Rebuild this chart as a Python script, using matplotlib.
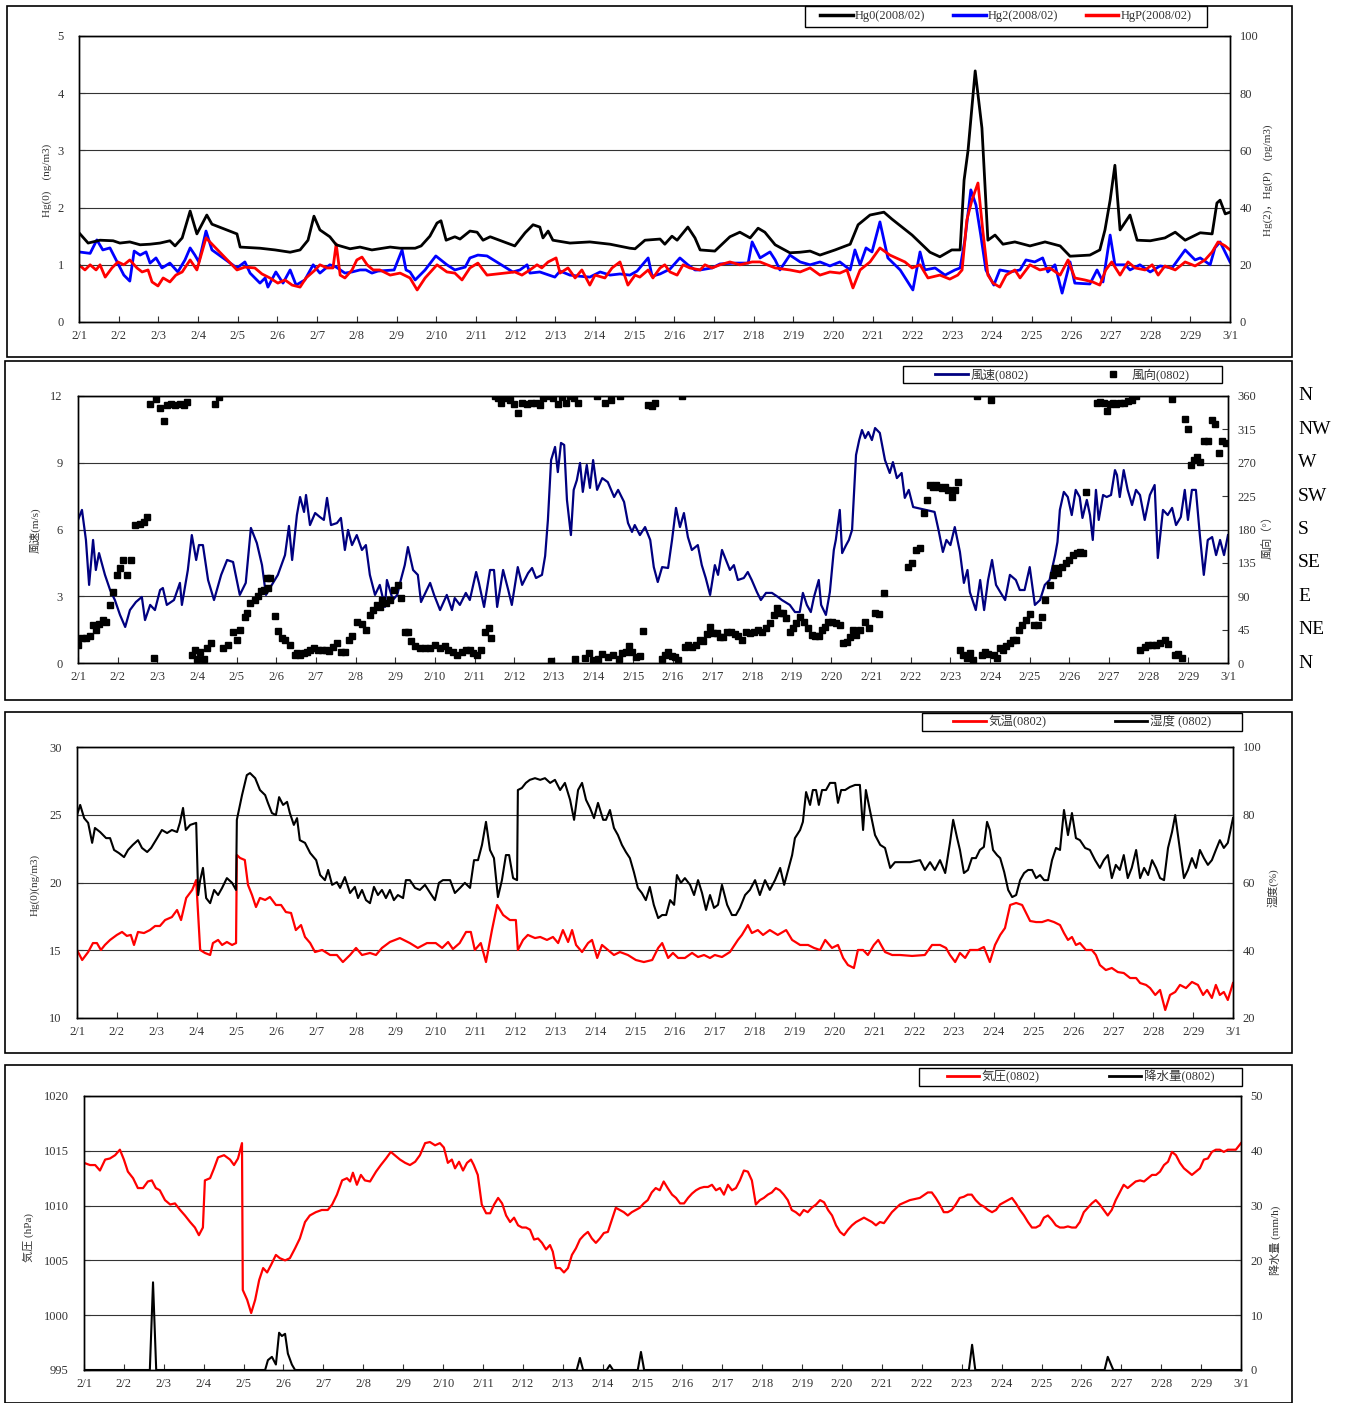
import matplotlib
matplotlib.use('Agg')
import matplotlib.pyplot as plt
from matplotlib.patches import Rectangle
from matplotlib.lines import Line2D
import matplotlib.transforms as mtrans

plt.rcParams['font.family'] = ['Liberation Serif', 'Noto Sans CJK JP']
plt.rcParams['font.size'] = 8
plt.rcParams['axes.unicode_minus'] = False

day_labels = ['2/1', '2/2', '2/3', '2/4', '2/5', '2/6', '2/7', '2/8', '2/9', '2/10',
              '2/11', '2/12', '2/13', '2/14', '2/15', '2/16', '2/17', '2/18', '2/19', '2/20',
              '2/21', '2/22', '2/23', '2/24', '2/25', '2/26', '2/27', '2/28', '2/29', '3/1']

# ---- panel 1 : mercury ----
hg0_day = [0, 0.23, 0.53, 0.86, 1.03, 1.28, 1.54, 1.79, 2.04, 2.29,
           2.42, 2.6, 2.8, 2.97, 3.22, 3.35, 3.98, 4.06, 4.56, 4.94,
           5.32, 5.57, 5.77, 5.92, 6.07, 6.32, 6.48, 6.83, 7.08, 7.38,
           7.84, 8.09, 8.47, 8.62, 8.84, 9.02, 9.12, 9.25, 9.47, 9.6,
           9.85, 10.03, 10.18, 10.36, 10.98, 11.24, 11.44, 11.61, 11.69, 11.82,
           11.94, 12.37, 12.87, 13.38, 13.88, 14.01, 14.26, 14.64, 14.76, 14.94,
           15.07, 15.34, 15.52, 15.65, 16.02, 16.4, 16.65, 16.91, 17.11, 17.28,
           17.54, 17.91, 18.17, 18.42, 18.67, 19.05, 19.43, 19.63, 19.93, 20.28,
           20.48, 20.99, 21.44, 21.69, 21.99, 22.2, 22.3, 22.4, 22.58, 22.75,
           22.9, 23.08, 23.28, 23.58, 23.96, 24.34, 24.72, 24.97, 25.47, 25.72,
           25.85, 25.98, 26.1, 26.23, 26.48, 26.66, 26.99, 27.36, 27.62, 27.87,
           28.25, 28.55, 28.67, 28.75, 28.88, 29.0]
hg0 = [1.56, 1.38, 1.43, 1.42, 1.38, 1.40, 1.35, 1.36, 1.38, 1.42,
       1.33, 1.47, 1.94, 1.54, 1.87, 1.71, 1.54, 1.31, 1.29, 1.26,
       1.22, 1.26, 1.43, 1.85, 1.61, 1.49, 1.35, 1.28, 1.31, 1.26,
       1.31, 1.29, 1.29, 1.33, 1.50, 1.73, 1.77, 1.43, 1.49, 1.45,
       1.59, 1.57, 1.43, 1.49, 1.33, 1.56, 1.70, 1.66, 1.47, 1.59,
       1.43, 1.38, 1.40, 1.36, 1.29, 1.28, 1.43, 1.45, 1.36, 1.50,
       1.43, 1.66, 1.47, 1.26, 1.24, 1.49, 1.57, 1.47, 1.64, 1.57,
       1.35, 1.21, 1.22, 1.24, 1.17, 1.26, 1.36, 1.70, 1.87, 1.92,
       1.80, 1.52, 1.22, 1.14, 1.26, 1.26, 2.48, 3.00, 4.39, 3.39,
       1.43, 1.52, 1.36, 1.40, 1.33, 1.40, 1.33, 1.15, 1.17, 1.26,
       1.61, 2.13, 2.74, 1.61, 1.87, 1.43, 1.42, 1.47, 1.57, 1.43,
       1.56, 1.54, 2.08, 2.13, 1.89, 1.92]

hg2_day = [0, 0.28, 0.45, 0.6, 0.78, 0.96, 1.13, 1.28, 1.39, 1.54,
           1.69, 1.79, 1.94, 2.09, 2.29, 2.49, 2.67, 2.8, 2.92, 3.02,
           3.2, 3.35, 3.98, 4.18, 4.31, 4.56, 4.69, 4.76, 4.96, 5.14,
           5.32, 5.47, 5.69, 5.9, 6.07, 6.32, 6.48, 6.7, 6.88, 7.08,
           7.23, 7.38, 7.53, 7.94, 8.14, 8.24, 8.34, 8.47, 8.72, 8.99,
           9.27, 9.47, 9.73, 9.85, 10.05, 10.28, 10.93, 11.11, 11.29, 11.36,
           11.61, 11.99, 12.12, 12.37, 12.62, 12.87, 13.13, 13.38, 13.63, 13.88,
           14.06, 14.34, 14.44, 14.64, 14.89, 15.14, 15.34, 15.52, 15.65, 15.95,
           16.15, 16.53, 16.86, 16.96, 17.16, 17.41, 17.54, 17.66, 17.91, 18.17,
           18.42, 18.67, 18.92, 19.17, 19.43, 19.55, 19.68, 19.83, 19.98, 20.18,
           20.38, 20.69, 21.01, 21.19, 21.31, 21.57, 21.82, 22.07, 22.2, 22.32,
           22.47, 22.6, 22.72, 22.85, 23.05, 23.2, 23.46, 23.71, 23.86, 24.08,
           24.28, 24.41, 24.59, 24.77, 24.97, 25.09, 25.47, 25.65, 25.8, 25.98,
           26.1, 26.36, 26.48, 26.73, 26.99, 27.24, 27.54, 27.87, 28.12, 28.25,
           28.5, 28.62, 28.75, 29.0]
hg2 = [24.5, 24, 28.7, 25.2, 25.9, 21, 16.4, 14.3, 24.8, 23.4,
       24.5, 20.6, 22.4, 18.9, 20.6, 17.5, 21.7, 25.9, 23.4, 21,
       31.8, 25.2, 18.9, 21, 17.1, 13.6, 15.4, 12.2, 17.5, 13.6,
       18.2, 12.9, 14.7, 20, 17.1, 20, 19.2, 17.1, 17.5, 18.2,
       18.2, 17.1, 17.8, 18.2, 25.2, 18.2, 17.5, 14.7, 18.2, 23.1,
       20, 18.2, 19.2, 22.4, 23.4, 23.1, 17.5, 18.2, 20, 17.1,
       17.5, 15.7, 17.8, 16.4, 16, 15.7, 17.5, 16.4, 16.8, 16.4,
       17.8, 22.4, 16, 16.8, 18.5, 22.4, 20, 18.2, 18.2, 18.9,
       20.3, 20.6, 20.6, 28, 22.4, 24.5, 21.7, 18.2, 23.4, 21,
       20, 21, 19.6, 21, 18.2, 25.2, 20, 25.9, 24.5, 35,
       22.4, 18.2, 11.2, 24.5, 18.2, 18.9, 16.4, 18.2, 18.9, 28.7,
       46.2, 40.9, 30.4, 18.2, 12.9, 18.2, 17.5, 18.2, 21.7, 21,
       22.4, 17.5, 20, 10.1, 21, 13.6, 13.3, 18.2, 14, 30.4,
       20, 20, 18.2, 20, 17.5, 19.6, 18.9, 25.2, 21.7, 22.4,
       20, 25.9, 28, 21]

hgp_day = [0, 0.15, 0.28, 0.43, 0.53, 0.66, 0.83, 0.98, 1.13, 1.28,
           1.46, 1.59, 1.74, 1.84, 1.99, 2.12, 2.29, 2.44, 2.6, 2.8,
           2.97, 3.2, 3.98, 4.18, 4.43, 4.61, 4.81, 5.01, 5.19, 5.37,
           5.57, 5.72, 5.95, 6.07, 6.25, 6.4, 6.48, 6.58, 6.7, 6.88,
           7.0, 7.13, 7.26, 7.41, 7.58, 7.84, 8.09, 8.34, 8.52, 8.72,
           9.02, 9.27, 9.47, 9.65, 9.85, 10.05, 10.28, 10.98, 11.16, 11.36,
           11.54, 11.66, 11.82, 12.02, 12.12, 12.32, 12.5, 12.67, 12.87, 13.0,
           13.25, 13.43, 13.63, 13.83, 14.01, 14.13, 14.34, 14.46, 14.64, 14.76,
           14.89, 15.07, 15.22, 15.39, 15.65, 15.77, 15.95, 16.15, 16.4, 16.65,
           16.96, 17.16, 17.54, 17.91, 18.17, 18.42, 18.67, 18.92, 19.17, 19.35,
           19.5, 19.68, 19.93, 20.18, 20.43, 20.81, 20.99, 21.19, 21.39, 21.69,
           21.94, 22.14, 22.25, 22.37, 22.5, 22.65, 22.77, 22.9, 23.03, 23.2,
           23.36, 23.58, 23.71, 23.96, 24.21, 24.46, 24.72, 24.92, 25.09, 25.34,
           25.54, 25.72, 25.87, 26.02, 26.23, 26.43, 26.61, 26.86, 27.04, 27.19,
           27.36, 27.62, 27.87, 28.12, 28.37, 28.55, 28.7, 28.88, 29.0]
hgp = [20, 18.2, 20, 18.2, 20, 15.7, 18.9, 21, 20, 21.7,
       18.9, 17.5, 18.2, 14, 12.6, 15.4, 14, 16.4, 17.5, 21.7,
       18.2, 29.4, 18.2, 19.2, 18.9, 16.8, 15.4, 13.6, 14.7, 12.9,
       12.2, 15.4, 18.2, 20, 18.9, 18.9, 27.3, 16.4, 15.4, 18.2,
       21.7, 22.7, 20, 18.2, 18.2, 16.4, 17.1, 15.4, 11.2, 15.4,
       20, 17.5, 17.1, 14.7, 18.9, 20.6, 16.4, 17.5, 16.4, 18.2,
       20, 18.9, 21, 22.4, 17.1, 18.9, 15.4, 18.2, 12.9, 16.4,
       15.4, 18.9, 21, 12.9, 16.4, 15.7, 18.2, 15.4, 18.9, 20,
       17.5, 16.4, 20, 18.9, 18.2, 20, 18.9, 20, 21, 20,
       21, 21, 18.9, 18.2, 17.5, 18.9, 16.4, 17.5, 17.1, 18.2,
       11.9, 18.2, 21, 25.9, 23.4, 21, 18.9, 20, 15.4, 16.4,
       15, 16.4, 18.2, 35.7, 42.7, 48.6, 32.2, 16.4, 13.6, 12.2,
       16.4, 18.2, 15.4, 20, 18.2, 18.9, 16.4, 21.7, 15.4, 14.7,
       14, 12.9, 18.2, 21, 16.4, 21, 18.9, 18.2, 20, 16.4,
       19.6, 18.2, 21, 19.6, 21.7, 24.5, 28, 26.6, 25.2]

# ---- panel 2 : wind ----
ws_day = [0, 0.1, 0.2, 0.28, 0.38, 0.45, 0.53, 0.68, 0.81, 0.93,
          1.06, 1.19, 1.31, 1.46, 1.61, 1.69, 1.82, 1.94, 2.07, 2.14,
          2.24, 2.42, 2.57, 2.62, 2.77, 2.87, 2.98, 3.05, 3.15, 3.28,
          3.43, 3.61, 3.76, 3.91, 4.08, 4.23, 4.36, 4.51, 4.64, 4.74,
          4.84, 5.04, 5.22, 5.32, 5.4, 5.52, 5.6, 5.7, 5.75, 5.85,
          5.98, 6.1, 6.2, 6.28, 6.38, 6.53, 6.63, 6.73, 6.81, 6.91,
          7.03, 7.16, 7.26, 7.36, 7.49, 7.61, 7.74, 7.79, 7.94, 8.05,
          8.14, 8.24, 8.32, 8.45, 8.57, 8.65, 8.77, 8.88, 8.98, 9.13,
          9.3, 9.43, 9.5, 9.63, 9.78, 9.88, 10.04, 10.11, 10.24, 10.39,
          10.49, 10.57, 10.72, 10.85, 10.94, 11.09, 11.2, 11.35, 11.45, 11.55,
          11.7, 11.78, 11.85, 11.93, 12.03, 12.1, 12.18, 12.26, 12.33, 12.43,
          12.5, 12.58, 12.66, 12.73, 12.83, 12.91, 12.99, 13.09, 13.22, 13.36,
          13.52, 13.62, 13.77, 13.87, 13.97, 14.04, 14.17, 14.3, 14.43, 14.52,
          14.62, 14.73, 14.88, 14.98, 15.08, 15.18, 15.28, 15.38, 15.48, 15.63,
          15.73, 15.83, 15.94, 16.06, 16.14, 16.24, 16.34, 16.44, 16.54, 16.64,
          16.79, 16.89, 16.99, 17.12, 17.22, 17.35, 17.5, 17.65, 17.75, 17.95,
          18.08, 18.2, 18.28, 18.38, 18.48, 18.56, 18.68, 18.74, 18.86, 18.96,
          19.06, 19.11, 19.21, 19.27, 19.37, 19.44, 19.52, 19.62, 19.7, 19.77,
          19.85, 19.93, 20.02, 20.1, 20.22, 20.35, 20.47, 20.55, 20.65, 20.77,
          20.85, 20.95, 21.06, 21.6, 21.7, 21.81, 21.9, 22.0, 22.11, 22.24,
          22.34, 22.43, 22.49, 22.64, 22.75, 22.85, 22.95, 23.05, 23.15, 23.27,
          23.38, 23.5, 23.65, 23.75, 23.87, 24.0, 24.13, 24.26, 24.38, 24.5,
          24.64, 24.7, 24.76, 24.86, 24.96, 25.06, 25.16, 25.26, 25.33, 25.44,
          25.52, 25.59, 25.67, 25.74, 25.85, 25.94, 26.05, 26.15, 26.2, 26.27,
          26.37, 26.47, 26.58, 26.68, 26.78, 26.9, 27.03, 27.15, 27.23, 27.36,
          27.48, 27.59, 27.69, 27.81, 27.91, 27.99, 28.09, 28.19, 28.29, 28.39,
          28.49, 28.6, 28.7, 28.8, 28.9, 29.0]
wind_speed = [6.43, 6.88, 5.53, 3.51, 5.53, 4.18, 4.94, 3.96, 3.28, 2.83,
              2.16, 1.62, 2.38, 2.74, 2.97, 1.93, 2.61, 2.38, 3.28, 3.37,
              2.61, 2.83, 3.6, 2.61, 4.18, 5.75, 4.63, 5.3, 5.3, 3.73,
              2.83, 3.96, 4.63, 4.54, 3.06, 3.6, 6.07, 5.39, 4.4, 3.06,
              3.37, 3.96, 4.85, 6.16, 4.63, 6.65, 7.46, 6.79, 7.55, 6.2,
              6.74, 6.56, 6.43, 7.42, 6.2, 6.29, 6.52, 5.08, 5.98, 5.3,
              5.75, 5.08, 5.3, 3.96, 3.06, 3.51, 2.52, 3.73, 2.83, 3.06,
              3.73, 4.4, 5.21, 4.18, 3.96, 2.74, 3.19, 3.6, 3.06, 2.38,
              3.06, 2.38, 2.92, 2.61, 3.15, 2.83, 4.09, 3.6, 2.52, 4.18,
              4.18, 2.52, 4.18, 3.28, 2.61, 4.31, 3.51, 4.04, 4.27, 3.82,
              3.96, 4.81, 6.43, 9.12, 9.71, 8.58, 9.89, 9.8, 7.33, 5.75,
              7.78, 8.22, 8.99, 7.69, 8.9, 7.87, 9.12, 7.78, 8.31, 8.13,
              7.46, 7.78, 7.24, 6.29, 5.89, 6.2, 5.75, 6.11, 5.53, 4.31,
              3.64, 4.31, 4.27, 5.53, 6.97, 6.11, 6.74, 5.66, 5.08, 5.3,
              4.4, 3.82, 3.06, 4.4, 3.96, 5.08, 4.63, 4.18, 4.4, 3.73,
              3.82, 4.09, 3.73, 3.19, 2.83, 3.15, 3.15, 2.97, 2.83, 2.61,
              2.29, 2.29, 3.15, 2.61, 2.29, 2.97, 3.73, 2.61, 2.16, 3.19,
              5.08, 5.53, 6.88, 4.94, 5.3, 5.53, 5.98, 9.35, 10.02, 10.47,
              10.11, 10.38, 10.02, 10.56, 10.34, 9.12, 8.54, 9.03, 8.31, 8.54,
              7.42, 7.78, 7.01, 6.79, 5.98, 4.99, 5.53, 5.3, 6.11, 4.99,
              3.6, 4.18, 3.19, 2.38, 3.73, 2.38, 3.73, 4.63, 3.51, 3.15,
              2.83, 3.96, 3.73, 3.28, 3.28, 4.31, 2.61, 2.83, 3.51, 3.73,
              4.85, 5.44, 6.88, 7.69, 7.46, 6.65, 7.78, 7.46, 6.52, 7.33,
              6.65, 5.53, 7.78, 6.43, 7.55, 7.46, 7.55, 8.67, 8.45, 7.46,
              8.67, 7.78, 7.1, 7.78, 7.55, 6.43, 7.55, 8.0, 4.72, 6.88,
              6.65, 6.97, 6.2, 6.56, 7.78, 6.43, 7.78, 7.78, 5.75, 3.96,
              5.53, 5.66, 4.85, 5.53, 4.85, 5.75]

wd_day = [0, 0.1, 0.2, 0.3, 0.38, 0.45, 0.53, 0.63, 0.71, 0.81,
          0.88, 0.98, 1.06, 1.13, 1.24, 1.34, 1.44, 1.56, 1.66, 1.74,
          1.82, 1.92, 1.97, 2.07, 2.17, 2.24, 2.34, 2.45, 2.57, 2.67,
          2.75, 2.87, 2.95, 3.0, 3.08, 3.18, 3.25, 3.35, 3.45, 3.56,
          3.66, 3.78, 3.91, 4.01, 4.08, 4.21, 4.26, 4.34, 4.46, 4.54,
          4.61, 4.69, 4.77, 4.84, 4.79, 4.97, 5.04, 5.14, 5.22, 5.35,
          5.47, 5.52, 5.6, 5.7, 5.77, 5.85, 5.95, 6.05, 6.15, 6.25,
          6.33, 6.43, 6.53, 6.63, 6.73, 6.83, 6.91, 7.03, 7.16, 7.26,
          7.36, 7.44, 7.54, 7.61, 7.67, 7.77, 7.87, 7.97, 8.07, 8.14,
          8.25, 8.32, 8.4, 8.5, 8.62, 8.75, 8.88, 9.0, 9.13, 9.25,
          9.33, 9.46, 9.56, 9.68, 9.78, 9.88, 9.96, 10.06, 10.16, 10.26,
          10.36, 10.41, 10.51, 10.59, 10.67, 10.77, 10.89, 10.99, 11.09, 11.2,
          11.32, 11.42, 11.55, 11.65, 11.72, 11.83, 11.93, 11.98, 12.1, 12.2,
          12.3, 12.41, 12.51, 12.61, 12.53, 12.78, 12.88, 12.99, 13.09, 13.11,
          13.21, 13.29, 13.36, 13.44, 13.49, 13.67, 13.64, 13.72, 13.82, 13.89,
          13.97, 14.07, 14.17, 14.25, 14.37, 14.47, 14.55, 14.73, 14.8, 14.88,
          14.98, 15.05, 15.13, 15.23, 15.3, 15.38, 15.48, 15.58, 15.68, 15.76,
          15.86, 15.94, 16.01, 16.11, 16.19, 16.26, 16.36, 16.46, 16.57, 16.64,
          16.74, 16.84, 16.94, 17.04, 17.15, 17.25, 17.35, 17.45, 17.55, 17.62,
          17.7, 17.78, 17.85, 17.95, 18.03, 18.1, 18.2, 18.31, 18.41, 18.51,
          18.58, 18.68, 18.76, 18.84, 18.91, 19.01, 19.11, 19.21, 19.29, 19.39,
          19.47, 19.54, 19.62, 19.72, 19.84, 19.94, 20.1, 20.2, 20.32, 20.93,
          21.03, 21.13, 21.23, 21.33, 21.41, 21.48, 21.56, 21.63, 21.71, 21.79,
          21.86, 21.94, 22.04, 22.11, 22.19, 22.24, 22.31, 22.42, 22.49, 22.57,
          22.67, 22.79, 22.87, 22.95, 23.02, 23.1, 23.17, 23.25, 23.32, 23.4,
          23.5, 23.58, 23.65, 23.73, 23.8, 23.9, 24.0, 24.1, 24.21, 24.31,
          24.38, 24.51, 24.58, 24.63, 24.71, 24.81, 24.91, 24.99, 25.09, 25.19,
          25.26, 25.34, 25.42, 25.69, 25.77, 25.87, 25.95, 26.02, 26.1, 26.17,
          26.27, 26.37, 26.47, 26.58, 26.68, 26.78, 26.9, 26.98, 27.08, 27.18,
          27.28, 27.41, 27.48, 27.58, 27.66, 27.74, 27.84, 27.91, 27.99, 28.06,
          28.14, 28.21, 28.29, 28.39, 28.49, 28.59, 28.67, 28.77, 28.85, 28.95]
wind_dir = [24, 34, 34, 36, 51, 44, 53, 58, 55, 78,
            96, 119, 128, 139, 119, 139, 186, 187, 190, 197,
            349, 7, 356, 344, 326, 348, 349, 348, 349, 348,
            352, 11, 18, 5, 15, 5, 20, 27, 349, 359,
            20, 24, 42, 31, 44, 62, 67, 81, 85, 90,
            97, 98, 115, 115, 101, 63, 43, 34, 31, 24,
            11, 13, 11, 13, 15, 18, 20, 18, 18, 18,
            16, 22, 27, 15, 15, 31, 36, 55, 53, 44,
            65, 71, 78, 76, 85, 81, 85, 98, 105, 88,
            42, 42, 30, 23, 20, 20, 20, 24, 20, 23,
            18, 15, 11, 15, 18, 18, 13, 11, 18, 42,
            47, 34, 360, 357, 350, 357, 355, 349, 337, 350,
            349, 350, 350, 348, 357, 360, 3, 357, 349, 359,
            350, 360, 357, 350, 5, 7, 13, 4, 360, 5,
            12, 350, 8, 355, 11, 360, 5, 13, 15, 23,
            15, 8, 9, 43, 348, 347, 350, 5, 11, 15,
            9, 8, 4, 360, 22, 24, 22, 24, 31, 30,
            39, 49, 40, 40, 35, 35, 42, 42, 39, 36,
            31, 42, 40, 42, 44, 42, 47, 54, 65, 74,
            67, 67, 61, 42, 47, 54, 62, 55, 47, 38,
            36, 36, 44, 49, 55, 55, 54, 51, 27, 28,
            35, 44, 38, 44, 55, 47, 67, 66, 94, 129,
            135, 152, 155, 202, 220, 240, 237, 240, 237, 236,
            237, 233, 224, 233, 244, 18, 11, 7, 13, 4,
            360, 11, 15, 12, 355, 11, 7, 20, 18, 23,
            27, 31, 31, 44, 51, 58, 66, 51, 51, 62,
            85, 105, 119, 128, 121, 129, 135, 139, 146, 148,
            150, 148, 231, 350, 352, 350, 340, 349, 350, 349,
            350, 350, 353, 355, 360, 18, 22, 24, 24, 24,
            27, 31, 26, 356, 11, 12, 7, 329, 315, 267,
            274, 278, 271, 299, 299, 328, 322, 283, 299, 297]
compass = ['N', 'NW', 'W', 'SW', 'S', 'SE', 'E', 'NE', 'N']
compass_deg = [360, 315, 270, 225, 180, 135, 90, 45, 0]

# ---- panel 3 : temperature / humidity ----
temp_day = [0, 0.13, 0.28, 0.4, 0.5, 0.6, 0.7, 0.83, 1.0, 1.13,
            1.25, 1.35, 1.43, 1.53, 1.68, 1.83, 1.96, 2.08, 2.21, 2.38,
            2.51, 2.61, 2.74, 2.89, 2.99, 3.09, 3.21, 3.34, 3.41, 3.54,
            3.64, 3.76, 3.89, 3.99, 4.01, 4.09, 4.21, 4.29, 4.39, 4.49,
            4.59, 4.72, 4.84, 4.99, 5.12, 5.24, 5.37, 5.49, 5.62, 5.72,
            5.85, 5.97, 6.15, 6.35, 6.52, 6.67, 6.85, 7.0, 7.15, 7.35,
            7.5, 7.65, 7.85, 8.1, 8.35, 8.55, 8.78, 9.0, 9.16, 9.31,
            9.43, 9.6, 9.76, 9.88, 9.98, 10.13, 10.26, 10.41, 10.54, 10.69,
            10.86, 11.01, 11.06, 11.19, 11.31, 11.49, 11.62, 11.79, 11.94, 12.07,
            12.19, 12.32, 12.42, 12.52, 12.67, 12.82, 12.92, 13.05, 13.17, 13.32,
            13.47, 13.62, 13.82, 14.02, 14.22, 14.43, 14.58, 14.68, 14.83, 14.95,
            15.08, 15.25, 15.43, 15.58, 15.73, 15.88, 16.0, 16.18, 16.38, 16.58,
            16.68, 16.83, 16.93, 17.08, 17.21, 17.38, 17.58, 17.79, 17.94, 18.14,
            18.34, 18.49, 18.64, 18.77, 18.94, 19.09, 19.22, 19.34, 19.49, 19.59,
            19.72, 19.84, 19.99, 20.1, 20.27, 20.45, 20.65, 20.95, 21.27, 21.45,
            21.65, 21.8, 21.9, 22.03, 22.15, 22.28, 22.4, 22.6, 22.75, 22.9,
            23.03, 23.16, 23.28, 23.41, 23.56, 23.71, 23.81, 23.91, 24.06, 24.21,
            24.36, 24.51, 24.66, 24.76, 24.86, 24.96, 25.06, 25.16, 25.31, 25.46,
            25.56, 25.66, 25.81, 25.96, 26.11, 26.26, 26.42, 26.57, 26.67, 26.82,
            26.92, 27.05, 27.17, 27.3, 27.42, 27.55, 27.67, 27.82, 27.97, 28.12,
            28.25, 28.35, 28.47, 28.57, 28.67, 28.77, 28.87, 29.0]
temp = [15.02, 14.28, 14.87, 15.53, 15.53, 15.02, 15.39, 15.76, 16.13, 16.35,
        16.06, 16.13, 15.39, 16.35, 16.27, 16.49, 16.79, 16.79, 17.23, 17.45,
        17.97, 17.23, 18.86, 19.45, 20.18, 15.02, 14.8, 14.65, 15.53, 15.76,
        15.39, 15.61, 15.39, 15.53, 22.03, 21.81, 21.66, 19.82, 19.08, 18.19,
        18.86, 18.71, 18.93, 18.34, 18.34, 17.82, 17.75, 16.49, 16.86, 15.98,
        15.53, 14.87, 15.02, 14.65, 14.65, 14.13, 14.65, 15.17, 14.65, 14.8,
        14.65, 15.17, 15.61, 15.9, 15.53, 15.17, 15.53, 15.53, 15.17, 15.61,
        15.09, 15.53, 16.35, 16.35, 15.02, 15.53, 14.13, 16.49, 18.34, 17.6,
        17.23, 17.23, 15.02, 15.76, 16.13, 15.9, 15.98, 15.76, 15.98, 15.53,
        16.49, 15.61, 16.49, 15.39, 14.87, 15.53, 15.76, 14.43, 15.39, 15.02,
        14.65, 14.87, 14.65, 14.28, 14.13, 14.28, 15.17, 15.53, 14.43, 14.8,
        14.43, 14.43, 14.8, 14.5, 14.65, 14.43, 14.65, 14.5, 14.87, 15.76,
        16.13, 16.86, 16.27, 16.49, 16.13, 16.49, 16.13, 16.49, 15.76, 15.39,
        15.39, 15.17, 15.02, 15.76, 15.17, 15.39, 14.43, 13.91, 13.69, 15.02,
        15.02, 14.65, 15.39, 15.76, 14.87, 14.65, 14.65, 14.58, 14.65, 15.39,
        15.39, 15.17, 14.65, 14.13, 14.8, 14.43, 15.02, 15.02, 15.24, 14.13,
        15.39, 16.13, 16.64, 18.34, 18.49, 18.34, 17.75, 17.16, 17.08, 17.08,
        17.23, 17.08, 16.86, 16.27, 15.76, 15.98, 15.39, 15.53, 15.02, 15.02,
        14.65, 13.91, 13.54, 13.69, 13.39, 13.32, 12.95, 12.95, 12.58, 12.44,
        12.21, 11.7, 12.07, 10.59, 11.7, 11.92, 12.44, 12.21, 12.66, 12.44,
        11.7, 12.07, 11.48, 12.44, 11.7, 11.92, 11.33, 12.58]

hum_day = [0, 0.08, 0.18, 0.28, 0.38, 0.45, 0.58, 0.73, 0.83, 0.93,
           1.05, 1.18, 1.28, 1.4, 1.53, 1.63, 1.76, 1.86, 2.01, 2.13,
           2.26, 2.38, 2.51, 2.58, 2.66, 2.73, 2.84, 2.99, 3.04, 3.09,
           3.16, 3.24, 3.34, 3.44, 3.54, 3.64, 3.76, 3.89, 3.99, 4.01,
           4.14, 4.26, 4.34, 4.47, 4.59, 4.72, 4.79, 4.89, 4.99, 5.07,
           5.17, 5.27, 5.34, 5.44, 5.52, 5.59, 5.72, 5.85, 6.0, 6.1,
           6.22, 6.3, 6.4, 6.52, 6.6, 6.72, 6.85, 6.97, 7.05, 7.15,
           7.25, 7.35, 7.45, 7.55, 7.65, 7.75, 7.85, 7.95, 8.05, 8.18,
           8.25, 8.35, 8.48, 8.6, 8.73, 8.86, 8.98, 9.08, 9.18, 9.36,
           9.48, 9.61, 9.73, 9.86, 9.96, 10.06, 10.16, 10.26, 10.36, 10.46,
           10.56, 10.66, 10.76, 10.84, 10.94, 11.04, 11.06, 11.16, 11.26, 11.36,
           11.49, 11.62, 11.74, 11.87, 11.99, 12.12, 12.24, 12.37, 12.47, 12.57,
           12.67, 12.77, 12.87, 12.97, 13.07, 13.2, 13.27, 13.37, 13.47, 13.57,
           13.67, 13.77, 13.87, 13.97, 14.07, 14.17, 14.27, 14.37, 14.47, 14.58,
           14.68, 14.78, 14.88, 14.98, 15.05, 15.15, 15.25, 15.38, 15.48, 15.58,
           15.68, 15.78, 15.88, 15.98, 16.08, 16.18, 16.31, 16.43, 16.53, 16.63,
           16.76, 16.88, 17.01, 17.13, 17.26, 17.38, 17.51, 17.64, 17.74, 17.84,
           17.94, 18.01, 18.14, 18.21, 18.29, 18.39, 18.46, 18.54, 18.61, 18.69,
           18.79, 18.89, 19.02, 19.09, 19.17, 19.27, 19.39, 19.52, 19.64, 19.72,
           19.79, 19.89, 20.02, 20.15, 20.27, 20.4, 20.52, 20.9, 21.15, 21.27,
           21.4, 21.52, 21.65, 21.78, 21.9, 21.98, 22.08, 22.15, 22.25, 22.35,
           22.45, 22.55, 22.65, 22.75, 22.83, 22.9, 22.98, 23.08, 23.16, 23.26,
           23.36, 23.46, 23.56, 23.66, 23.76, 23.86, 23.96, 24.06, 24.16, 24.26,
           24.36, 24.46, 24.56, 24.66, 24.76, 24.86, 24.96, 25.06, 25.16, 25.29,
           25.41, 25.54, 25.66, 25.76, 25.86, 25.96, 26.06, 26.16, 26.26, 26.36,
           26.46, 26.57, 26.67, 26.77, 26.87, 26.97, 27.07, 27.17, 27.27, 27.37,
           27.47, 27.55, 27.67, 27.77, 27.87, 27.97, 28.07, 28.17, 28.27, 28.37,
           28.47, 28.57, 28.67, 28.77, 28.87, 29.0]
humidity = [79.9, 82.9, 79.0, 77.6, 71.7, 76.1, 74.9, 73.1, 73.1, 69.6,
            68.7, 67.5, 69.6, 71.1, 72.5, 70.2, 69.0, 70.2, 73.1, 75.5,
            74.6, 75.5, 74.9, 77.6, 82.0, 75.5, 77.0, 77.6, 56.3, 60.7,
            64.3, 55.4, 53.9, 57.8, 56.3, 58.4, 61.3, 59.9, 57.8, 78.5,
            85.8, 91.7, 92.3, 90.8, 87.3, 85.8, 83.5, 80.5, 79.9, 85.2,
            82.9, 83.8, 80.5, 77.0, 79.0, 72.5, 71.7, 68.7, 66.6, 62.2,
            60.7, 63.7, 59.3, 60.1, 58.4, 61.6, 56.9, 58.7, 55.4, 57.8,
            54.8, 53.9, 58.7, 56.3, 57.8, 55.4, 57.8, 54.8, 56.3, 55.4,
            60.7, 60.7, 58.4, 57.8, 59.3, 56.9, 54.8, 59.9, 60.7, 60.7,
            56.9, 58.4, 59.9, 58.4, 66.6, 66.6, 71.1, 77.9, 69.6, 67.2,
            55.7, 60.7, 68.1, 68.1, 61.3, 60.7, 87.3, 87.9, 89.4, 90.3,
            90.8, 90.3, 90.8, 89.4, 90.3, 87.3, 89.4, 84.4, 78.5, 87.3,
            89.4, 84.4, 82.0, 79.0, 83.5, 78.5, 78.5, 81.4, 76.1, 74.0,
            71.1, 69.0, 67.2, 63.1, 58.4, 56.9, 54.8, 58.7, 53.4, 49.5,
            50.4, 50.4, 54.8, 53.4, 62.2, 59.9, 61.3, 59.3, 56.3, 60.7,
            56.9, 51.9, 56.3, 52.5, 53.4, 59.3, 53.4, 50.4, 50.4, 52.5,
            56.3, 57.8, 60.7, 56.3, 60.7, 57.8, 60.7, 64.3, 59.3, 63.7,
            68.1, 73.1, 75.5, 77.9, 86.7, 82.9, 87.3, 87.3, 82.9, 87.3,
            87.3, 89.4, 89.4, 83.5, 87.3, 87.3, 88.2, 88.8, 88.8, 75.5,
            87.3, 81.4, 74.0, 71.1, 70.2, 64.3, 66.0, 66.0, 66.6, 63.7,
            66.0, 63.7, 66.6, 62.8, 71.7, 78.5, 73.1, 69.6, 62.8, 63.7,
            67.2, 67.2, 69.6, 70.5, 77.9, 75.5, 69.6, 68.1, 67.2, 63.1,
            57.8, 55.7, 56.3, 60.7, 62.8, 63.7, 63.7, 61.3, 62.2, 60.7,
            60.7, 66.6, 70.2, 69.6, 81.4, 74.0, 80.5, 73.1, 72.5, 70.2,
            69.6, 66.6, 64.3, 66.6, 68.1, 61.3, 65.2, 63.7, 68.1, 61.3,
            64.3, 69.6, 61.3, 64.3, 62.2, 66.6, 64.3, 61.3, 60.7, 70.2,
            74.9, 79.9, 69.6, 61.3, 63.7, 67.2, 64.3, 69.6, 67.2, 65.2,
            66.6, 69.6, 72.5, 70.2, 71.7, 79.0]

# ---- panel 4 : pressure / precipitation ----
pres_day = [0, 0.15, 0.28, 0.4, 0.53, 0.65, 0.78, 0.9, 1.0, 1.1,
            1.23, 1.35, 1.48, 1.6, 1.7, 1.8, 1.9, 2.03, 2.16, 2.28,
            2.41, 2.53, 2.66, 2.78, 2.88, 2.98, 3.03, 3.16, 3.26, 3.36,
            3.51, 3.66, 3.76, 3.86, 3.96, 3.98, 4.09, 4.19, 4.29, 4.39,
            4.49, 4.59, 4.69, 4.81, 4.91, 5.04, 5.16, 5.29, 5.41, 5.54,
            5.66, 5.81, 5.96, 6.11, 6.22, 6.34, 6.47, 6.59, 6.67, 6.74,
            6.84, 6.94, 7.04, 7.17, 7.32, 7.44, 7.57, 7.69, 7.79, 7.92,
            8.05, 8.17, 8.3, 8.42, 8.55, 8.67, 8.8, 8.92, 9.02, 9.12,
            9.22, 9.3, 9.4, 9.5, 9.6, 9.7, 9.77, 9.87, 9.97, 10.08,
            10.18, 10.28, 10.38, 10.48, 10.58, 10.68, 10.78, 10.88, 10.98, 11.08,
            11.18, 11.28, 11.38, 11.48, 11.58, 11.68, 11.75, 11.83, 11.93, 12.03,
            12.13, 12.23, 12.33, 12.43, 12.53, 12.63, 12.73, 12.83, 12.93, 13.03,
            13.13, 13.23, 13.33, 13.43, 13.53, 13.63, 13.73, 13.83, 13.93, 14.03,
            14.13, 14.23, 14.33, 14.43, 14.53, 14.63, 14.74, 14.84, 14.94, 15.04,
            15.14, 15.24, 15.34, 15.44, 15.54, 15.64, 15.74, 15.84, 15.94, 16.04,
            16.14, 16.24, 16.34, 16.44, 16.54, 16.64, 16.74, 16.84, 16.94, 17.04,
            17.14, 17.24, 17.34, 17.44, 17.54, 17.64, 17.74, 17.84, 17.94, 18.04,
            18.14, 18.24, 18.35, 18.45, 18.55, 18.65, 18.75, 18.85, 18.95, 19.05,
            19.15, 19.25, 19.35, 19.45, 19.55, 19.65, 19.75, 19.85, 19.95, 20.05,
            20.15, 20.25, 20.45, 20.7, 20.95, 21.15, 21.25, 21.35, 21.45, 21.55,
            21.65, 21.75, 21.85, 21.95, 22.05, 22.15, 22.25, 22.35, 22.46, 22.56,
            22.66, 22.76, 22.86, 22.96, 23.06, 23.16, 23.26, 23.36, 23.46, 23.56,
            23.66, 23.76, 23.86, 23.96, 24.06, 24.16, 24.26, 24.36, 24.46, 24.56,
            24.66, 24.76, 24.86, 24.96, 25.06, 25.16, 25.26, 25.36, 25.46, 25.56,
            25.66, 25.76, 25.86, 25.96, 26.06, 26.16, 26.26, 26.36, 26.47, 26.57,
            26.67, 26.77, 26.87, 26.97, 27.07, 27.17, 27.27, 27.37, 27.47, 27.57,
            27.67, 27.77, 27.87, 27.97, 28.07, 28.17, 28.27, 28.37, 28.47, 28.57,
            28.67, 28.77, 28.87, 29.0]
pressure = [1013.9, 1013.7, 1013.7, 1013.2, 1014.2, 1014.3, 1014.6, 1015.1, 1014.2, 1013.1,
            1012.5, 1011.6, 1011.6, 1012.2, 1012.3, 1011.6, 1011.4, 1010.5, 1010.1, 1010.2,
            1009.6, 1009.1, 1008.5, 1008.0, 1007.3, 1008.0, 1012.3, 1012.5, 1013.4, 1014.4,
            1014.6, 1014.2, 1013.7, 1014.3, 1015.7, 1002.3, 1001.4, 1000.2, 1001.4, 1003.2,
            1004.3, 1003.9, 1004.6, 1005.5, 1005.2, 1005.0, 1005.2, 1006.1, 1007.0, 1008.5,
            1009.1, 1009.4, 1009.6, 1009.6, 1010.1, 1011.0, 1012.3, 1012.5, 1012.2, 1013.0,
            1011.9, 1012.8, 1012.3, 1012.2, 1013.1, 1013.7, 1014.3, 1014.9, 1014.6, 1014.2,
            1013.9, 1013.7, 1014.0, 1014.6, 1015.7, 1015.8, 1015.5, 1015.7, 1015.3, 1013.9,
            1014.2, 1013.4, 1014.0, 1013.2, 1013.9, 1014.2, 1013.7, 1012.8, 1010.1, 1009.3,
            1009.3, 1010.1, 1010.7, 1010.2, 1009.1, 1008.5, 1008.9, 1008.2, 1008.0, 1008.0,
            1007.8, 1006.9, 1007.0, 1006.6, 1006.0, 1006.4, 1005.8, 1004.3, 1004.3, 1003.9,
            1004.3, 1005.5, 1006.1, 1006.9, 1007.3, 1007.6, 1007.0, 1006.6, 1007.0, 1007.5,
            1007.6, 1008.7, 1009.8, 1009.6, 1009.4, 1009.1, 1009.4, 1009.6, 1009.8, 1010.2,
            1010.5, 1011.2, 1011.6, 1011.4, 1012.2, 1011.6, 1011.0, 1010.7, 1010.2, 1010.2,
            1010.7, 1011.1, 1011.4, 1011.6, 1011.7, 1011.7, 1011.9, 1011.4, 1011.6, 1011.0,
            1011.9, 1011.4, 1011.6, 1012.3, 1013.2, 1013.1, 1012.3, 1010.1, 1010.5, 1010.7,
            1011.0, 1011.2, 1011.6, 1011.4, 1011.0, 1010.5, 1009.6, 1009.4, 1009.1, 1009.6,
            1009.4, 1009.8, 1010.1, 1010.5, 1010.3, 1009.6, 1009.1, 1008.2, 1007.6, 1007.3,
            1007.8, 1008.2, 1008.5, 1008.7, 1008.9, 1008.7, 1008.5, 1008.2, 1008.5, 1008.4,
            1008.9, 1009.4, 1010.1, 1010.5, 1010.7, 1011.2, 1011.2, 1010.7, 1010.1, 1009.4,
            1009.4, 1009.6, 1010.1, 1010.7, 1010.8, 1011.0, 1011.0, 1010.5, 1010.1, 1009.9,
            1009.6, 1009.4, 1009.6, 1010.1, 1010.3, 1010.5, 1010.7, 1010.2, 1009.6, 1009.1,
            1008.5, 1008.0, 1008.0, 1008.2, 1008.9, 1009.1, 1008.7, 1008.2, 1008.0, 1008.0,
            1008.1, 1008.0, 1008.0, 1008.5, 1009.4, 1009.8, 1010.2, 1010.5, 1010.1, 1009.6,
            1009.1, 1009.6, 1010.5, 1011.2, 1011.9, 1011.6, 1011.9, 1012.2, 1012.3, 1012.2,
            1012.5, 1012.8, 1012.8, 1013.1, 1013.7, 1014.0, 1014.9, 1014.6, 1013.9, 1013.4,
            1013.1, 1012.8, 1013.1, 1013.4, 1014.2, 1014.3, 1014.9, 1015.1, 1015.1, 1014.9,
            1015.1, 1015.1, 1015.1, 1015.7]

precip_day = [0, 1.65, 1.73, 1.81, 4.54, 4.61, 4.71, 4.81, 4.89, 4.96,
              5.04, 5.11, 5.21, 5.29, 12.35, 12.43, 12.51, 13.1, 13.18, 13.26,
              13.88, 13.96, 14.04, 22.18, 22.26, 22.34, 25.58, 25.66, 25.8, 29.0]
precip = [0, 0, 16, 0, 0, 1.8, 2.4, 1.0, 6.8, 6.2,
          6.6, 3.0, 1.0, 0, 0, 2.2, 0, 0, 0.9, 0,
          0, 3.3, 0, 0, 4.6, 0, 0, 2.4, 0, 0]

W, H = 1346, 1403
fig = plt.figure(figsize=(W / 100, H / 100), dpi=100)
GREY = '#333333'


def px_axes(x0, y0, x1, y1):
    return fig.add_axes([x0 / W, 1 - y1 / H, (x1 - x0) / W, (y1 - y0) / H])


def px_box(x0, y0, x1, y1, lw=1.2):
    fig.add_artist(Rectangle((x0 / W, 1 - y1 / H), (x1 - x0) / W, (y1 - y0) / H,
                             transform=fig.transFigure, fill=False, lw=lw, ec='black'))


def setup(ax, ax2, ylim, yticks, rlim, rticks):
    ax.set_xlim(0, 29)
    ax.set_xticks(range(30))
    ax.set_xticklabels(day_labels)
    ax.set_ylim(*ylim)
    ax.set_yticks(yticks)
    ax2.set_ylim(*rlim)
    ax2.set_yticks(rticks)
    ax.tick_params(axis='x', direction='in', length=4, labelsize=9, pad=6, colors=GREY)
    ax.tick_params(axis='y', direction='in', length=4, labelsize=9, pad=11, colors=GREY)
    ax2.tick_params(axis='y', direction='in', length=4, labelsize=9, pad=7, colors=GREY)
    for a in (ax, ax2):
        for s in a.spines.values():
            s.set_linewidth(1.0)


def ylab(x, y, text):
    fig.text(x / W, 1 - y / H, text, rotation=90, ha='center', va='center',
             fontsize=8, color=GREY)


def legend_box(x0, y0, x1, y1, handles, labels, spacing):
    px_box(x0, y0, x1, y1, lw=1.0)
    fig.legend(handles, labels, loc='center',
               bbox_to_anchor=((x0 + x1) / 2 / W, 1 - (y0 + y1) / 2 / H),
               ncol=len(handles), frameon=False, fontsize=9, handlelength=2.6,
               handletextpad=0.2, columnspacing=spacing, borderpad=0.1,
               labelcolor=GREY)


# ---------------- panel 1 ----------------
px_box(7, 6, 1292, 357)
ax1 = px_axes(79, 36, 1230, 322)
ax1b = ax1.twinx()
setup(ax1, ax1b, (0, 5), range(6), (0, 100), range(0, 101, 20))
ax1.set_zorder(ax1b.get_zorder() + 1)
ax1.patch.set_visible(False)
ax1b.grid(axis='y', color=GREY, lw=0.8)
ax1b.plot(hg2_day, hg2, color='#0000ff', lw=2.0)
ax1b.plot(hgp_day, hgp, color='#ff0000', lw=2.0)
ax1.plot(hg0_day, hg0, color='black', lw=2.0)
ylab(47, 180, 'Hg(0)　(ng/m3)')
ylab(1268, 180, 'Hg(2)，Hg(P)　(pg/m3)')
legend_box(805, 6, 1207, 27,
           [Line2D([], [], color='black', lw=2.5), Line2D([], [], color='#0000ff', lw=2.5),
            Line2D([], [], color='#ff0000', lw=2.5)],
           ['Hg0(2008/02)', 'Hg2(2008/02)', 'HgP(2008/02)'], 2.2)

# ---------------- panel 2 ----------------
px_box(5, 361, 1292, 700)
ax2 = px_axes(78, 396, 1228, 663)
ax2b = ax2.twinx()
setup(ax2, ax2b, (0, 12), range(0, 13, 3), (0, 360), range(0, 361, 45))
ax2.grid(axis='y', color=GREY, lw=0.8)
ax2.plot(ws_day, wind_speed, color='#000080', lw=1.6)
ax2b.plot(wd_day, wind_dir, ls='none', marker='s', ms=4.5, color='black')
ylab(35, 530, '風速(m/s)')
ylab(1267, 535, '風向（°）')
trans = mtrans.blended_transform_factory(fig.transFigure, ax2b.transData)
for name, deg in zip(compass, compass_deg):
    ax2b.text(1298 / W, deg, name, transform=trans, ha='left', va='center',
              fontsize=14, family=['Liberation Serif'], clip_on=False)
legend_box(903, 366, 1222, 383,
           [Line2D([], [], color='#000080', lw=2), Line2D([], [], ls='none', marker='s', ms=5, color='black')],
           ['風速(0802)', '風向(0802)'], 5.5)

# ---------------- panel 3 ----------------
px_box(5, 712, 1292, 1053)
ax3 = px_axes(77, 747, 1233, 1018)
ax3b = ax3.twinx()
setup(ax3, ax3b, (10, 30), range(10, 31, 5), (20, 100), range(20, 101, 20))
ax3.grid(axis='y', color=GREY, lw=0.8)
ax3.plot(temp_day, temp, color='#ff0000', lw=1.6)
ax3b.plot(hum_day, humidity, color='black', lw=1.5)
ylab(35, 885, 'Hg(0)(ng/m3)')
ylab(1273, 888, '湿度(%)')
legend_box(922, 713, 1242, 731,
           [Line2D([], [], color='#ff0000', lw=2), Line2D([], [], color='black', lw=2)],
           ['気温(0802)', '湿度 (0802)'], 5.5)

# ---------------- panel 4 ----------------
px_box(5, 1065, 1292, 1403)
ax4 = px_axes(84, 1096, 1241, 1370)
ax4b = ax4.twinx()
setup(ax4, ax4b, (995, 1020), range(995, 1021, 5), (0, 50), range(0, 51, 10))
ax4.grid(axis='y', color=GREY, lw=0.8)
ax4.plot(pres_day, pressure, color='#ff0000', lw=1.6)
ax4b.plot(precip_day, precip, color='black', lw=1.5)
ylab(28, 1237, '気圧 (hPa)')
ylab(1275, 1240, '降水量 (mm/h)')
legend_box(919, 1068, 1242, 1086,
           [Line2D([], [], color='#ff0000', lw=2), Line2D([], [], color='black', lw=2)],
           ['気圧(0802)', '降水量(0802)'], 5.5)

fig.savefig('out.png', dpi=100)
